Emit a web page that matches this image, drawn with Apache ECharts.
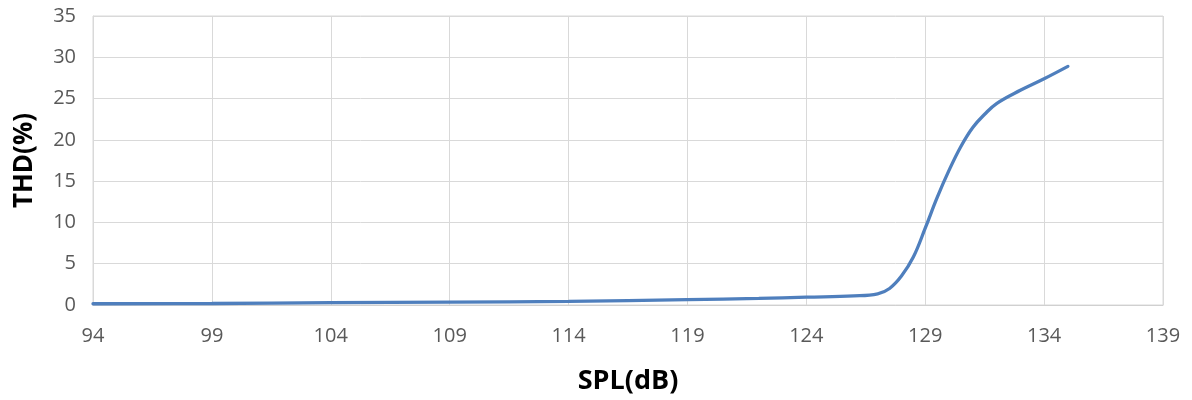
<!DOCTYPE html>
<html><head><meta charset="utf-8">
<script src="https://cdn.jsdelivr.net/npm/echarts@6/dist/echarts.min.js"></script>
<style>html,body{margin:0;padding:0;background:#fff}#c{width:1192px;height:400px}</style>
</head><body><div id="c"></div>
<script>
const splDb = [94, 99, 104, 109, 114, 119, 122, 124, 126, 127, 127.5, 128, 128.5, 129, 129.5, 130, 130.5, 131, 131.5, 132, 133, 134, 135];
const thdPct = [0.15, 0.18, 0.28, 0.35, 0.45, 0.65, 0.8, 0.95, 1.1, 1.35, 2.0, 3.5, 5.8, 9.3, 13.0, 16.3, 19.2, 21.5, 23.1, 24.4, 26.0, 27.4, 28.9];
const xTickLabels = [94, 99, 104, 109, 114, 119, 124, 129, 134, 139];
const yTickLabels = [0, 5, 10, 15, 20, 25, 30, 35];
const xName = 'SPL(dB)';
const yName = 'THD(%)';

const xBase = xTickLabels[0];
const seriesData = splDb.map((x, i) => [x - xBase, thdPct[i]]);

const chart = echarts.init(document.getElementById('c'), null, {renderer: 'canvas'});
const font = '"Open Sans", "Liberation Sans", sans-serif';
chart.setOption({
  animation: false,
  grid: {left: 93, right: 29, top: 16, bottom: 95, show: true, borderColor: '#d9d9d9', borderWidth: 1},
  xAxis: {
    type: 'value',
    min: 0, max: xTickLabels[xTickLabels.length - 1] - xBase, interval: 5,
    name: xName, nameLocation: 'middle', nameGap: 63,
    nameTextStyle: {fontFamily: font, fontWeight: 'bold', fontSize: 27, color: '#000'},
    axisLine: {show: true, lineStyle: {color: '#d0d0d0', width: 1}},
    axisTick: {show: false},
    axisLabel: {fontFamily: font, fontSize: 20, color: '#595959', margin: 21,
      formatter: v => String(v + xBase)},
    splitLine: {show: true, lineStyle: {color: '#d9d9d9', width: 1}}
  },
  yAxis: {
    type: 'value', min: 0, max: 35, interval: 5,
    name: yName, nameLocation: 'middle', nameGap: 55, nameRotate: 90,
    nameTextStyle: {fontFamily: font, fontWeight: 'bold', fontSize: 26, color: '#000'},
    axisLine: {show: true, lineStyle: {color: '#d9d9d9', width: 1}},
    axisTick: {show: false},
    axisLabel: {fontFamily: font, fontSize: 20, color: '#595959', margin: 17},
    splitLine: {show: true, lineStyle: {color: '#d9d9d9', width: 1}}
  },
  series: [{
    type: 'line', data: seriesData, smooth: 0.4, showSymbol: false, symbol: 'none',
    lineStyle: {color: '#4f7fbd', width: 3.3, cap: 'round'}
  }]
});
</script></body></html>
